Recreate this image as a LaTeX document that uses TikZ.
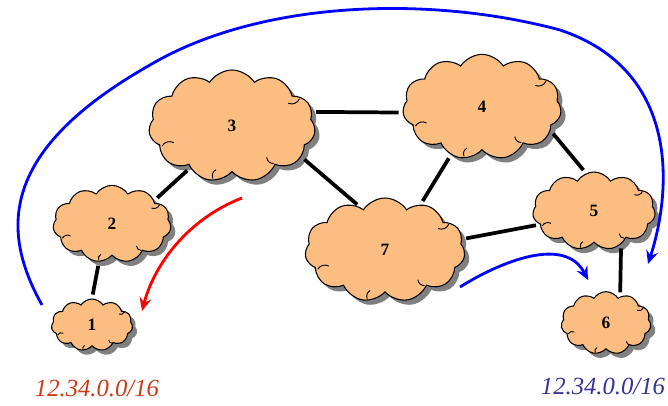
\documentclass[tikz,border=0pt]{standalone}
\usepackage{fontspec}
\setmainfont{Liberation Serif}
\usetikzlibrary{shapes.symbols,shadows,arrows.meta,calc}
\definecolor{cloudfill}{RGB}{252,190,128}
\definecolor{labelred}{RGB}{200,60,20}
\definecolor{labelblue}{RGB}{51,51,153}
\tikzset{
  net/.style={cloud, cloud puffs=11, cloud puff arc=115, cloud ignores aspect,
    draw=black, line width=0.8pt, fill=cloudfill, inner sep=0pt,
    font=\bfseries\fontsize{13}{15}\selectfont,
    drop shadow={shadow xshift=3.5pt, shadow yshift=-3.5pt, fill=black!50, opacity=1}},
  hook/.style={line width=0.7pt, black, bend left=45},
  link/.style={line width=2.8pt, black, shorten <=3pt, shorten >=3pt},
  route/.style={line width=2.1pt, -{Stealth[length=10pt,width=9pt,inset=3.5pt]}},
  addrlabel/.style={font=\itshape\fontsize{18.5}{20}\selectfont}
}
% short inner strokes where neighbouring puffs meet
\newcommand\puffhooks[1]{%
  \foreach \ang in {196,250,318,22}{%
    \draw[hook] ($(#1.\ang)!0.04!(#1.center)$) to ($(#1.\ang)!0.2!(#1.center)$);
  }}
\begin{document}
\begin{tikzpicture}[x=0.75pt,y=-0.75pt]
  \useasboundingbox (0,0) rectangle (668,406);
  % networks
  \node[net, minimum width=61pt, minimum height=39pt] (n1) at (92,325) {1};
  \node[net, minimum width=88.5pt, minimum height=58pt] (n2) at (112,224) {2};
  \node[net, minimum width=125pt, minimum height=84pt] (n3) at (232,126) {3};
  \node[net, minimum width=119pt, minimum height=79pt] (n4) at (482,107) {4};
  \node[net, minimum width=92pt, minimum height=58.5pt] (n5) at (594,211) {5};
  \node[net, minimum width=67.5pt, minimum height=47pt] (n6) at (606,323) {6};
  \node[net, minimum width=120pt, minimum height=78pt] (n7) at (385,250) {7};
  \foreach \n in {n1,n2,n3,n4,n5,n6,n7}{\puffhooks{\n}}
  % links between networks
  \draw[link] (n2.251) -- (n1.90);
  \draw[link] (n3.225) -- (n2.29);
  \draw[link] (n3.10) -- (n4.184);
  \draw[link] (n3.336) -- (n7.120);
  \draw[link] (n4.237) -- (n7.52);
  \draw[link] (n4.341) -- (n5.102);
  \draw[link] (n7.8) -- (n5.194);
  \draw[link] (n5.309) -- (n6.62);
  % routes
  \coordinate (a1) at (42,305);
  \coordinate (a2) at (648,264);
  \draw[route, blue] (a1) .. controls (0,230) and (0,150) .. (150,65)
     .. controls (260,0) and (430,-5) .. (560,30)
     .. controls (680,70) and (672,190) .. (a2);
  \coordinate (b1) at (460,287);
  \coordinate (b2) at (588,280);
  \draw[route, blue] (b1) .. controls (500,262) and (565,235) .. (b2);
  \coordinate (c1) at (242,198);
  \coordinate (c2) at (142,311);
  \draw[route, red] (c1) .. controls (190,218) and (155,262) .. (c2);
  % address prefixes
  \node[addrlabel, text=labelred] (p1) at (97,388) {12.34.0.0/16};
  \node[addrlabel, text=labelblue] (p2) at (603,386) {12.34.0.0/16};
\end{tikzpicture}
\end{document}
